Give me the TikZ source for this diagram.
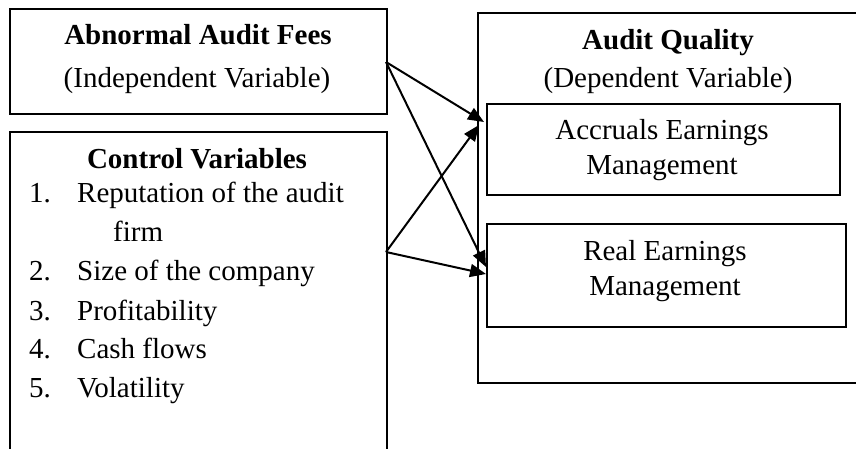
\documentclass[tikz,border=0pt]{standalone}
\usepackage{fontspec}
\setmainfont{Liberation Serif}
\usetikzlibrary{arrows.meta}
\begin{document}
\begin{tikzpicture}[x=1pt,y=-1pt,
  box/.style={draw,line width=1.7pt,rectangle,inner sep=0pt,anchor=north west},
  txt/.style={inner sep=0pt,anchor=base,font=\fontsize{29}{36}\selectfont},
  txtl/.style={inner sep=0pt,anchor=base west,font=\fontsize{29}{36}\selectfont},
  arr/.style={line width=2pt,-{Triangle[length=16pt,width=13pt]}}]
\useasboundingbox (0,0) rectangle (856,449);
\clip (0,0) rectangle (856,449);
% boxes
\node[box,minimum width=377pt,minimum height=105pt] (fees) at (9,8) {};
\node[box,minimum width=377pt,minimum height=340pt] (ctrl) at (9,131) {};
\node[box,minimum width=400pt,minimum height=370pt] (aq) at (477,12) {};
\node[box,minimum width=353pt,minimum height=91pt] (acc) at (486,103) {};
\node[box,minimum width=359pt,minimum height=103pt] (real) at (486,223) {};
% texts
\node[txt] (t1) at (198,45) {\bfseries Abnormal Audit Fees};
\node[txt] (t2) at (197,88) {(Independent Variable)};
\node[txt] (t3) at (197,168) {\bfseries Control Variables};
\node[txtl] (n1) at (29,203) {1.};
\node[txtl] (i1) at (77,203) {Reputation of the audit};
\node[txtl] (i1b) at (113,241) {firm};
\node[txtl] (n2) at (29,280) {2.};
\node[txtl] (i2) at (77,280) {Size of the company};
\node[txtl] (n3) at (29,320) {3.};
\node[txtl] (i3) at (77,320) {Profitability};
\node[txtl] (n4) at (29,358) {4.};
\node[txtl] (i4) at (77,358) {Cash flows};
\node[txtl] (n5) at (29,397) {5.};
\node[txtl] (i5) at (77,397) {Volatility};
\node[txt] (t4) at (668,50) {\bfseries Audit Quality};
\node[txt] (t5) at (668,88) {(Dependent Variable)};
\node[txt] (t6) at (662,140) {Accruals Earnings};
\node[txt] (t7) at (662,175) {Management};
\node[txt] (t8) at (665,260) {Real Earnings};
\node[txt] (t9) at (665,295) {Management};
% connector points
\coordinate (s1) at (386,62);
\coordinate (s2) at (386,252);
\coordinate (e1) at (484,122);
\coordinate (e2) at (479,125);
\coordinate (e3) at (486,267);
\coordinate (e4) at (486,274);
\draw[arr] (s1) -- (e1);
\draw[arr] (s1) -- (e3);
\draw[arr] (s2) -- (e2);
\draw[arr] (s2) -- (e4);
\end{tikzpicture}
\end{document}
